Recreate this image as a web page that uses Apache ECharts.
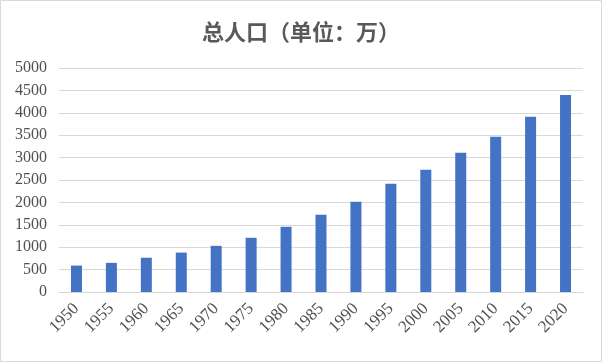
<!DOCTYPE html>
<html><head><meta charset="utf-8">
<style>html,body{margin:0;padding:0;background:#fff}#c{width:602px;height:362px}</style>
<script src="https://cdn.jsdelivr.net/npm/echarts@6/dist/echarts.min.js"></script>
</head><body><div id="c"></div>
<script>
const titleText = '总人口（单位：万）';
const years = ['1950','1955','1960','1965','1970','1975','1980','1985','1990','1995','2000','2005','2010','2015','2020'];
const population = [590, 650, 765, 880, 1030, 1210, 1455, 1725, 2015, 2415, 2730, 3110, 3465, 3910, 4400];

const chart = echarts.init(document.getElementById('c'));
chart.setOption({
  animation: false,
  backgroundColor: '#fff',
  title: {
    text: titleText, left: 'center', top: 16,
    textStyle: {fontFamily: '"Noto Sans CJK SC"', fontSize: 22, fontWeight: 'bold', color: '#595959'}
  },
  graphic: [{type: 'rect', shape: {x: 0.5, y: 0.5, width: 601, height: 361}, style: {fill: 'none', stroke: '#d9d9d9', lineWidth: 1}, silent: true}],
  grid: {left: 59, right: 19, top: 68, height: 224},
  xAxis: {
    type: 'category', data: years,
    axisLine: {lineStyle: {color: '#d9d9d9'}},
    axisTick: {show: false},
    axisLabel: {rotate: 45, interval: 0, margin: 14, color: '#505050', fontFamily: '"Liberation Serif"', fontSize: 17}
  },
  yAxis: {
    type: 'value', min: 0, max: 5000, interval: 500,
    axisLine: {show: false}, axisTick: {show: false},
    splitLine: {lineStyle: {color: '#d9d9d9'}},
    axisLabel: {margin: 12, color: '#505050', fontFamily: '"Liberation Serif"', fontSize: 16, formatter: v => String(v)}
  },
  series: [{type: 'bar', data: population, barWidth: 11, itemStyle: {color: '#4472C4'}}]
});
</script></body></html>
